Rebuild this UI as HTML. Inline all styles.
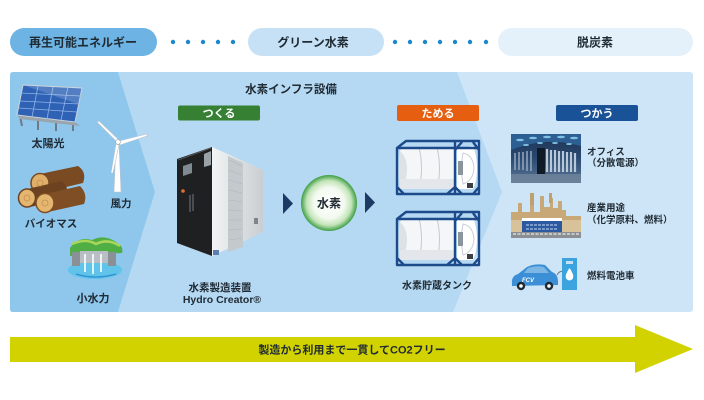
<!DOCTYPE html>
<html><head><meta charset="utf-8">
<style>
html,body{margin:0;padding:0;background:#fff;}
svg{display:block;}
text{font-family:"Liberation Sans","Noto Sans CJK JP",sans-serif;font-weight:bold;}
</style></head>
<body>
<svg width="704" height="400" viewBox="0 0 704 400" xmlns="http://www.w3.org/2000/svg">
<defs>
  <radialGradient id="h2" cx="50%" cy="50%" r="50%">
    <stop offset="0" stop-color="#ffffff"/>
    <stop offset="0.55" stop-color="#f3faf0"/>
    <stop offset="0.8" stop-color="#c3e4b8"/>
    <stop offset="1" stop-color="#3d9e45"/>
  </radialGradient>
  <linearGradient id="office" x1="0" y1="0" x2="0" y2="1">
    <stop offset="0" stop-color="#1d3150"/>
    <stop offset="0.5" stop-color="#2a4a72"/>
    <stop offset="1" stop-color="#5d7796"/>
  </linearGradient>
  <linearGradient id="side" x1="0" y1="0" x2="1" y2="0">
    <stop offset="0" stop-color="#f2f4f5"/>
    <stop offset="1" stop-color="#c9ced2"/>
  </linearGradient>
  <g id="tank">
    <path d="M3,10 Q1,28 3,48 L57,48 L57,6 L10,6 Q4,6 3,10 Z" fill="#f4f6f8"/>
    <path d="M3,10 Q0,28 3,48 Q10,40 10,28 Q10,16 3,10 Z" fill="#dde2e7"/>
    <path d="M22,6 Q27,28 22,48 M40,6 Q45,28 40,48" stroke="#c3cad2" stroke-width="1" fill="none"/>
    <rect x="3" y="38" width="54" height="10" fill="#e3e7eb"/>
    <path d="M60,8 L76,5 Q80,15 80,27 Q80,40 76,48 L60,48 Z" fill="#ffffff"/>
    <path d="M66,12 Q76,14 77,27 Q76,40 66,43 Q63,27 66,12 Z" fill="none" stroke="#c8cfd6" stroke-width="1"/>
    <rect x="61" y="20" width="5" height="14" fill="#8d959c"/>
    <rect x="70" y="42" width="6" height="5" fill="#3b3f44"/>
    <path d="M0,7 L9,0 L82,0 L82,53 L0,53 Z M58,0 L58,53 M0,7 L58,7 M58,7 L82,7 M58,9 L65,1 M82,9 L76,1 M58,46 L65,53 M82,46 L76,53 M0,46 L7,53 M50,53 L58,46" fill="none" stroke="#1d4a8a" stroke-width="2.4" stroke-linejoin="round"/>
  </g>
</defs>

<!-- top pills -->
<rect x="10" y="28" width="147" height="28" rx="14" fill="#6db3e3"/>
<rect x="248" y="28" width="136" height="28" rx="14" fill="#c6e1f5"/>
<rect x="498" y="28" width="195" height="28" rx="14" fill="#e4f1fb"/>
<g fill="#1889cf">
  <circle cx="173" cy="42" r="2.2"/><circle cx="188" cy="42" r="2.2"/><circle cx="203" cy="42" r="2.2"/><circle cx="218" cy="42" r="2.2"/><circle cx="233" cy="42" r="2.2"/>
  <circle cx="395" cy="42" r="2.2"/><circle cx="410" cy="42" r="2.2"/><circle cx="425" cy="42" r="2.2"/><circle cx="440" cy="42" r="2.2"/><circle cx="455" cy="42" r="2.2"/><circle cx="470" cy="42" r="2.2"/><circle cx="486" cy="42" r="2.2"/>
</g>
<text x="83" y="46.5" font-size="12" text-anchor="middle" fill="#1f2a33">再生可能エネルギー</text>
<text x="313" y="46.5" font-size="12" text-anchor="middle" fill="#1f2a33">グリーン水素</text>
<text x="595" y="46.5" font-size="12" text-anchor="middle" fill="#1f2a33">脱炭素</text>

<!-- main panel -->
<rect x="10" y="72" width="683" height="240" rx="3" fill="#cde5f7"/>
<path d="M118,72 H457 L502,192 L453,312 H118 L155,192 Z" fill="#b5d9f3"/>
<path d="M13,72 H118 L155,192 L118,312 H13 Q10,312 10,309 V75 Q10,72 13,72 Z" fill="#8fc6ec"/>

<text x="291" y="93" font-size="11.5" text-anchor="middle" fill="#1f2a33">水素インフラ設備</text>

<!-- label boxes -->
<rect x="178" y="105.5" width="82" height="15" rx="2" fill="#358032"/>
<text x="219" y="117" font-size="11" text-anchor="middle" fill="#fff">つくる</text>
<rect x="397" y="105" width="82" height="16" rx="2" fill="#e65f10"/>
<text x="438" y="117" font-size="11" text-anchor="middle" fill="#fff">ためる</text>
<rect x="556" y="105" width="82" height="16" rx="2" fill="#1a5298"/>
<text x="597" y="117" font-size="11" text-anchor="middle" fill="#fff">つかう</text>

<!-- solar panel -->
<g>
  <path d="M20,116 L22,126 M38,119 L38,130 M56,122 L56,131 M73,123 L73,131" stroke="#6f7a84" stroke-width="2"/>
  <path d="M17,115 L75,122 L80,126 L20,119 Z" fill="#9aa4ad"/>
  <path d="M23,85 L82,88 L75,122 L17,115 Z" fill="#2f62b5" stroke="#c9d3dc" stroke-width="1"/>
  <path d="M38,86 L32,117 M53,87 L47,119 M68,87 L61,120 M21,93 L81,96 M20,101 L79,104 M19,108 L77,112" stroke="#8fb2e6" stroke-width="0.8" fill="none"/>
  <path d="M23,85 L82,88 L78,104 Z" fill="#ffffff" opacity="0.18"/>
</g>
<text x="48" y="147" font-size="11" text-anchor="middle" fill="#1f2a33">太陽光</text>

<!-- wind turbine -->
<g>
  <path d="M116,143 L119,143 L121,192 L114,192 Z" fill="#ffffff" stroke="#b9c3cc" stroke-width="0.6"/>
  <path d="M117,142 L97,122 L99,121 L119,140 Z" fill="#ffffff" stroke="#b9c3cc" stroke-width="0.6"/>
  <path d="M119,141 L147,134 L147,136 L120,145 Z" fill="#ffffff" stroke="#b9c3cc" stroke-width="0.6"/>
  <path d="M116,144 L111,173 L113,173 L119,145 Z" fill="#ffffff" stroke="#b9c3cc" stroke-width="0.6"/>
  <circle cx="118" cy="142" r="2.4" fill="#ffffff" stroke="#9aa5af" stroke-width="0.6"/>
</g>
<text x="121" y="207" font-size="10.5" text-anchor="middle" fill="#1f2a33">風力</text>

<!-- logs -->
<g>
  <path d="M40,174 L78,166 Q87,172 83,183 L45,192 Z" fill="#7a4a22"/>
  <ellipse cx="40" cy="183" rx="9" ry="9.5" fill="#e0b06a" stroke="#7a4a22" stroke-width="1.5"/>
  <path d="M27,189 L62,181 Q70,188 66,199 L30,207 Z" fill="#6d4220"/>
  <path d="M45,194 L80,186 Q88,194 84,204 L48,212 Z" fill="#7f4e25"/>
  <ellipse cx="27" cy="198" rx="8.5" ry="9" fill="#e4b66f" stroke="#6d4220" stroke-width="1.5"/>
  <ellipse cx="45" cy="203" rx="9" ry="9.5" fill="#e4b66f" stroke="#7f4e25" stroke-width="1.5"/>
  <circle cx="40" cy="183" r="3" fill="none" stroke="#c58f4b" stroke-width="0.8"/>
  <circle cx="27" cy="198" r="3" fill="none" stroke="#c58f4b" stroke-width="0.8"/>
  <circle cx="45" cy="203" r="3" fill="none" stroke="#c58f4b" stroke-width="0.8"/>
</g>
<text x="51" y="227" font-size="10.5" text-anchor="middle" fill="#1f2a33">バイオマス</text>

<!-- hydro -->
<g>
  <ellipse cx="95" cy="270" rx="27" ry="9" fill="#5fc3ea"/>
  <path d="M70,248 Q78,236 92,240 Q104,234 116,242 Q124,246 122,253 L70,256 Z" fill="#4fae44"/>
  <path d="M72,244 Q86,238 96,244 Q108,238 120,246" stroke="#a7d65a" stroke-width="2.5" fill="none"/>
  <rect x="72" y="252" width="8" height="14" fill="#8a9196"/>
  <rect x="108" y="252" width="8" height="14" fill="#8a9196"/>
  <rect x="80" y="251" width="28" height="12" fill="#b8bec3"/>
  <path d="M85,254 V272 M93,254 V274 M101,254 V272" stroke="#ffffff" stroke-width="1.6"/>
  <path d="M76,274 Q95,280 116,274" stroke="#2f8fd0" stroke-width="1.2" fill="none"/>
</g>
<text x="93" y="302" font-size="11" text-anchor="middle" fill="#1f2a33">小水力</text>

<!-- machine -->
<g>
  <path d="M177,159 L212,147 L263,170 L263,232 L212,256 L177,243 Z" fill="#e9ecee"/>
  <path d="M212,147 L263,170 L263,232 L212,256 Z" fill="url(#side)"/>
  <path d="M228,156 L243,163 L243,247 L228,252 Z" fill="#c4c9cd"/>
  <path d="M229,160 L242,166 M229,170 L242,175 M229,180 L242,184 M229,190 L242,193 M229,200 L242,202 M229,210 L242,211 M229,220 L242,220 M229,230 L242,229 M229,240 L242,238" stroke="#b0b6bb" stroke-width="0.6"/>
  <path d="M177,159 L212,147 L212,256 L177,243 Z" fill="#1e2022"/>
  <path d="M178,160 L211,148" stroke="#55595d" stroke-width="1"/>
  <path d="M183,166 L192,163 L192,173 L183,176 Z" fill="#7f8a93"/>
  <circle cx="183" cy="191" r="1.8" fill="#e0702a"/>
  <path d="M190,195 V212 M193,194 V211" stroke="#8a9096" stroke-width="0.8"/>
  <path d="M204,154 L211,151 L211,165 L204,167 Z" fill="#9aa2a8"/>
  <rect x="254" y="218" width="4" height="6" fill="#7d858b"/>
  <rect x="213" y="250" width="6" height="5" fill="#5b7fb0"/>
</g>
<text x="220" y="291" font-size="10.5" text-anchor="middle" fill="#1f2a33">水素製造装置</text>
<text x="222" y="303" font-size="10.5" text-anchor="middle" fill="#1f2a33">Hydro Creator®</text>

<!-- arrows & H2 -->
<path d="M283,193 L293,203.5 L283,214 Z" fill="#1c3a63"/>
<circle cx="329" cy="203" r="28" fill="url(#h2)"/>
<text x="329" y="207.5" font-size="12" text-anchor="middle" fill="#1f2a33">水素</text>
<path d="M365,192 L375,202.5 L365,213 Z" fill="#1c3a63"/>

<!-- tanks -->
<use href="#tank" x="397" y="141"/>
<use href="#tank" x="397" y="212"/>
<text x="437" y="289" font-size="10" text-anchor="middle" fill="#1f2a33">水素貯蔵タンク</text>

<!-- office -->
<g>
  <rect x="511" y="134" width="70" height="49" fill="url(#office)"/>
  <path d="M511,134 H581 V146 Q546,136 511,150 Z" fill="#2d5f93"/>
  <g fill="#8fd3f5" opacity="0.85">
    <ellipse cx="520" cy="140" rx="4" ry="1.2"/><ellipse cx="533" cy="138" rx="4" ry="1.2"/><ellipse cx="547" cy="137" rx="4" ry="1.2"/><ellipse cx="561" cy="137" rx="4" ry="1.2"/><ellipse cx="574" cy="138" rx="4" ry="1.2"/>
    <ellipse cx="526" cy="145" rx="3" ry="1"/><ellipse cx="540" cy="143" rx="3" ry="1"/><ellipse cx="555" cy="143" rx="3" ry="1"/><ellipse cx="569" cy="144" rx="3" ry="1"/>
  </g>
  <rect x="537" y="148" width="8" height="26" fill="#111a27"/>
  <path d="M547,149 V172 M551,150 V172 M555,150 V172 M559,151 V172 M563,151 V172 M567,152 V172 M571,152 V172 M575,153 V172" stroke="#b9c8d8" stroke-width="2.2"/>
  <path d="M515,153 V170 M519,152 V170 M523,152 V170 M527,151 V171 M531,151 V171" stroke="#8fa3b8" stroke-width="1.6"/>
  <rect x="511" y="174" width="70" height="9" fill="#6f849b" opacity="0.8"/>
</g>
<text x="587" y="155" font-size="9.5" fill="#1f2a33">オフィス</text>
<text x="587" y="166" font-size="9.5" fill="#1f2a33">（分散電源）</text>

<!-- factory -->
<g>
  <path d="M511,212 L518,212 L518,203 L522,203 L522,212 L530,212 L530,200 L534,200 L534,212 L540,212 L540,196 L544,196 L544,207 L550,207 L550,198 L553,198 L553,208 L558,208 L558,201 L562,201 L562,210 L566,210 L566,216 L581,216 L581,238 L511,238 Z" fill="#c9a877"/>
  <rect x="530" y="193" width="4" height="12" fill="#bfa06f"/>
  <rect x="549" y="193" width="3" height="10" fill="#bfa06f"/>
  <rect x="511" y="220" width="70" height="18" fill="#d8c29a"/>
  <rect x="522" y="218" width="40" height="14" fill="#2c5aa0"/>
  <rect x="522" y="218" width="40" height="3" fill="#ffffff"/>
  <path d="M526,225 H558 M526,229 H558" stroke="#a9c2e6" stroke-width="1.2" stroke-dasharray="3 1"/>
  <rect x="511" y="232" width="70" height="6" fill="#8b8f94"/>
  <path d="M513,234 H580" stroke="#ffffff" stroke-width="1" stroke-dasharray="3 1.5"/>
</g>
<text x="587" y="211" font-size="9.5" fill="#1f2a33">産業用途</text>
<text x="587" y="223" font-size="9.5" fill="#1f2a33">（化学原料、燃料）</text>

<!-- car -->
<g>
  <path d="M512,284 Q511,276 518,274 L527,267 Q535,263 545,265 L552,272 Q558,274 558,282 L558,285 L512,286 Z" fill="#3a8fd6"/>
  <path d="M528,268 Q536,265 544,267 L549,273 L524,273 Z" fill="#ffffff" opacity="0.35"/>
  <text x="522" y="282" font-size="6" font-style="italic" fill="#ffffff">FCV</text>
  <circle cx="521" cy="286" r="4.2" fill="#1f2a33"/><circle cx="521" cy="286" r="1.8" fill="#ffffff"/>
  <circle cx="549" cy="286" r="4.2" fill="#1f2a33"/><circle cx="549" cy="286" r="1.8" fill="#ffffff"/>
  <path d="M557,275 Q560,270 563,272" stroke="#6f7a84" stroke-width="1" fill="none"/>
  <rect x="562" y="258" width="15" height="32" fill="#3ba3dd"/>
  <path d="M569.5,268 Q575,276 572.5,279 Q569.5,282 566.5,279 Q564,276 569.5,268 Z" fill="#ffffff"/>
  <rect x="566" y="261" width="7" height="3" fill="#ffffff" opacity="0.7"/>
</g>
<text x="587" y="279" font-size="9.5" fill="#1f2a33">燃料電池車</text>

<!-- bottom arrow -->
<path d="M10,337 H635 V325 L693,349 L635,373 V362 H10 Z" fill="#d1d200"/>
<text x="352" y="353.5" font-size="11" text-anchor="middle" fill="#1f2a33">製造から利用まで一貫してCO2フリー</text>
</svg>
</body></html>
